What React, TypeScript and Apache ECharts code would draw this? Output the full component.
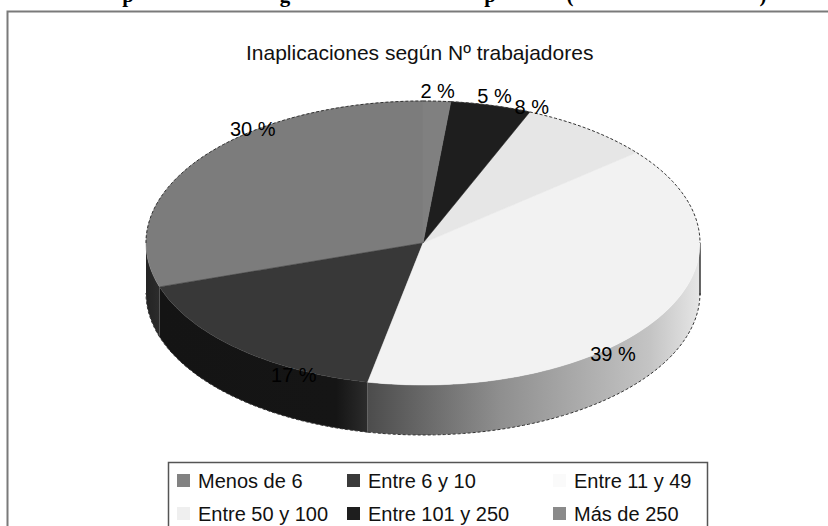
import React, { useEffect, useRef } from "react";
import * as echarts from "echarts";

const categories = ["Menos de 6", "Entre 6 y 10", "Entre 11 y 49", "Entre 50 y 100", "Entre 101 y 250", "Más de 250"];
const shares = [30.0, 16.8, 39.2, 7.7, 4.7, 1.6];
const chartTitle = "Inaplicaciones según Nº trabajadores";
const clippedHeading = [
  { text: "p", x: 128 },
  { text: "g", x: 285 },
  { text: "p", x: 490 },
  { text: "(", x: 570 },
  { text: ")", x: 763 },
];

const topColors = ["#7c7c7c", "#383838", "#f2f2f2", "#e6e6e6", "#1e1e1e", "#808080"];
const swatchColors = ["#828282", "#3a3a3a", "#fafafa", "#efefef", "#1e1e1e", "#8a8a8a"];
const wallStops: [number, string][][] = [
  [[0, "#232323"], [1, "#2c2c2c"]],
  [[0, "#141414"], [0.85, "#151515"], [1, "#2c2c2c"]],
  [[0, "#4c4c4c"], [0.4, "#8f8f8f"], [0.85, "#c4c4c4"], [1, "#e6e6e6"]],
  [[0, "#ccc"], [1, "#ccc"]],
  [[0, "#222"], [1, "#222"]],
  [[0, "#555"], [1, "#555"]],
];
// label offset relative to the rim, per category: horizontal and vertical factors
const labelFx = [0.76, 0.7, 0.8, 0.66, 1.05, 1.05];
const labelFy = [1.36, 1.25, 1.52, 1.19, 1.07, 1.07];

const CX = 423, CY = 243, RX = 277, RY = 142, DEPTH = 50;
const RAD = Math.PI / 180;
const total = shares.reduce((a, b) => a + b, 0);
// the ring runs clockwise from 12 o'clock through the categories in reverse order
const sharesAfter = (i: number) => shares.slice(i + 1).reduce((a, b) => a + b, 0);
const startAngle = (i: number) => (sharesAfter(i) / total) * 360;
const endAngle = (i: number) => ((sharesAfter(i) + shares[i]) / total) * 360;
const rim = (deg: number, dy = 0) => [CX + RX * Math.sin(deg * RAD), CY - RY * Math.cos(deg * RAD) + dy];
const arc = (a: number, b: number, dy = 0) => {
  const out: number[][] = [];
  const n = Math.max(2, Math.ceil(b - a));
  for (let k = 0; k <= n; k++) out.push(rim(a + ((b - a) * k) / n, dy));
  return out;
};

const rimStyle = { stroke: "#333", lineWidth: 1, lineDash: [3, 2], fill: "none" };

function renderWall(params: any) {
  const i = params.dataIndex;
  const a = startAngle(i), b = endAngle(i);
  const children: any[] = [];
  const lo = Math.max(a, 90), hi = Math.min(b, 270);
  if (hi > lo) {
    const gradient = new echarts.graphic.LinearGradient(
      0, 0, 1, 0,
      wallStops[i].map(([offset, color]) => ({ offset, color }))
    );
    children.push({
      type: "polygon",
      shape: { points: [...arc(lo, hi), ...arc(lo, hi, DEPTH).reverse()] },
      style: { fill: gradient },
    });
    children.push({ type: "polyline", shape: { points: arc(lo, hi, DEPTH) }, style: rimStyle });
    if (a <= 90 && b >= 90) {
      const p = rim(90);
      children.push({
        type: "line",
        shape: { x1: p[0], y1: p[1], x2: p[0], y2: p[1] + DEPTH + 2 },
        style: { stroke: "#333", lineWidth: 1.5 },
      });
    }
  }
  return { type: "group", children };
}

function renderTop(params: any) {
  const i = params.dataIndex;
  const a = startAngle(i), b = endAngle(i);
  const color = topColors[i];
  const children: any[] = [
    {
      type: "polygon",
      shape: { points: [[CX, CY], ...arc(a, b)] },
      style: { fill: color, stroke: color, lineWidth: 0.5 },
    },
  ];
  const backs: number[][] = [];
  if (a < 90) backs.push([a, Math.min(b, 90)]);
  if (b > 270) backs.push([Math.max(a, 270), b]);
  backs.forEach(([p, q]) => children.push({ type: "polyline", shape: { points: arc(p, q) }, style: rimStyle }));
  return { type: "group", children };
}

function renderLabel(params: any, api: any) {
  const i = params.dataIndex;
  const mid = (startAngle(i) + endAngle(i)) / 2;
  const x = CX + RX * labelFx[i] * Math.sin(mid * RAD);
  const y = CY - RY * labelFy[i] * Math.cos(mid * RAD);
  return {
    type: "text",
    style: {
      text: `${Math.round(api.value(0))} %`,
      x, y,
      align: "center",
      verticalAlign: "middle",
      fontFamily: "Liberation Sans",
      fontSize: 20,
      fill: "#000",
    },
  };
}

const legendColX = [177, 347, 553];
const legendRowY = [481, 514];

function buildGraphic() {
  const items: any[] = [
    {
      type: "polyline",
      shape: { points: [[7.5, 526], [7.5, 11.5], [828, 11.5]] },
      style: { stroke: "#7a7a7a", lineWidth: 2, fill: "none" },
    },
    {
      type: "polyline",
      shape: { points: [[168.5, 526], [168.5, 462.5], [707.5, 462.5], [707.5, 526]] },
      style: { stroke: "#555", lineWidth: 1.5, fill: "none" },
    },
  ];
  clippedHeading.forEach((h) =>
    items.push({
      type: "text",
      x: h.x,
      y: 5,
      style: {
        text: h.text,
        fontFamily: "Liberation Serif",
        fontWeight: "bold",
        fontSize: 21,
        fill: "#000",
        align: "center",
        verticalAlign: "bottom",
      },
    })
  );
  categories.forEach((name, i) => {
    const col = i % 3, row = Math.floor(i / 3);
    items.push({
      type: "rect",
      shape: { x: legendColX[col], y: legendRowY[row] - 7, width: 13, height: 13 },
      style: { fill: swatchColors[i] },
    });
    items.push({
      type: "text",
      x: legendColX[col] + 21,
      y: legendRowY[row],
      style: {
        text: name,
        fontFamily: "Liberation Sans",
        fontSize: 20,
        fill: "#111",
        verticalAlign: "middle",
      },
    });
  });
  return items;
}

export default function App() {
  const ref = useRef<HTMLDivElement>(null);
  useEffect(() => {
    document.body.style.margin = "0";
    document.body.style.background = "#fff";
    const chart = echarts.init(ref.current!, undefined, { renderer: "svg" });
    const data = shares.map((v, i) => ({ name: categories[i], value: [v, i] }));
    chart.setOption({
      animation: false,
      backgroundColor: "#fff",
      title: {
        text: chartTitle,
        left: 241,
        top: 37,
        textStyle: { fontFamily: "Liberation Sans", fontSize: 21, fontWeight: "normal", color: "#111" },
      },
      graphic: { elements: buildGraphic() },
      series: [
        { type: "custom", name: "paredes", coordinateSystem: "none", renderItem: renderWall, data, silent: true, z: 1 },
        { type: "custom", name: "sectores", coordinateSystem: "none", renderItem: renderTop, data, silent: true, z: 2 },
        { type: "custom", name: "etiquetas", coordinateSystem: "none", renderItem: renderLabel, data, silent: true, z: 3 },
      ],
    });
    return () => chart.dispose();
  }, []);
  return <div ref={ref} style={{ width: 828, height: 526 }} />;
}
